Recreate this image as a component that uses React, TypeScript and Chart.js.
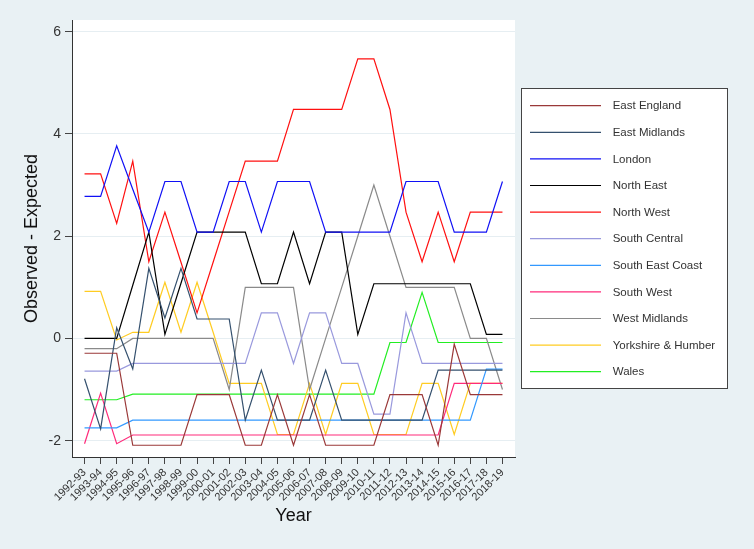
import { useEffect, useRef } from 'react';
import { Chart, registerables } from 'chart.js';

Chart.register(...registerables);

const years = [
  '1992-93', '1993-94', '1994-95', '1995-96', '1996-97', '1997-98', '1998-99',
  '1999-00', '2000-01', '2001-02', '2002-03', '2003-04', '2004-05', '2005-06',
  '2006-07', '2007-08', '2008-09', '2009-10', '2010-11', '2011-12', '2012-13',
  '2013-14', '2014-15', '2015-16', '2016-17', '2017-18', '2018-19',
];

const yTicks = [-2, 0, 2, 4, 6];

const regionNames = [
  'East England', 'East Midlands', 'London', 'North East', 'North West',
  'South Central', 'South East Coast', 'South West', 'West Midlands',
  'Yorkshire & Humber', 'Wales',
];

const regionColors = [
  '#9a3838', '#34506e', '#1010f5', '#000000', '#ff1010',
  '#9999dd', '#3399ff', '#ff2a7a', '#8a8a8a', '#ffcc22', '#22ee22',
];

const eastEngland = [-0.29, -0.29, -0.29, -2.09, -2.09, -2.09, -2.09, -1.1, -1.1, -1.1, -2.09, -2.09, -1.1, -2.09, -1.1, -2.09, -2.09, -2.09, -2.09, -1.1, -1.1, -1.1, -2.09, -0.11, -1.1, -1.1, -1.1];
const eastMidlands = [-0.79, -1.77, 0.21, -0.6, 1.37, 0.4, 1.37, 0.38, 0.38, 0.38, -1.6, -0.62, -1.6, -1.6, -1.6, -0.62, -1.6, -1.6, -1.6, -1.6, -1.6, -1.6, -0.62, -0.62, -0.62, -0.62, -0.62];
const london = [2.78, 2.78, 3.77, 2.92, 2.08, 3.07, 3.07, 2.08, 2.08, 3.07, 3.07, 2.08, 3.07, 3.07, 3.07, 2.08, 2.08, 2.08, 2.08, 2.08, 3.07, 3.07, 3.07, 2.08, 2.08, 2.08, 3.07];
const northEast = [0, 0, 0, 1.04, 2.08, 0.08, 1.08, 2.08, 2.08, 2.08, 2.08, 1.07, 1.07, 2.08, 1.07, 2.08, 2.08, 0.08, 1.07, 1.07, 1.07, 1.07, 1.07, 1.07, 1.07, 0.08, 0.08];
const northWest = [3.22, 3.22, 2.25, 3.47, 1.5, 2.47, 1.49, 0.5, 1.49, 2.48, 3.47, 3.47, 3.47, 4.48, 4.48, 4.48, 4.48, 5.47, 5.47, 4.48, 2.47, 1.5, 2.47, 1.5, 2.47, 2.47, 2.47];
const southCentral = [-0.64, -0.64, -0.64, -0.49, -0.49, -0.49, -0.49, -0.49, -0.49, -0.49, -0.49, 0.5, 0.5, -0.49, 0.5, 0.5, -0.49, -0.49, -1.48, -1.48, 0.5, -0.49, -0.49, -0.49, -0.49, -0.49, -0.49];
const southEastCoast = [-1.75, -1.75, -1.75, -1.6, -1.6, -1.6, -1.6, -1.6, -1.6, -1.6, -1.6, -1.6, -1.6, -1.6, -1.6, -1.6, -1.6, -1.6, -1.6, -1.6, -1.6, -1.6, -1.6, -1.6, -1.6, -0.6, -0.6];
const southWest = [-2.06, -1.07, -2.06, -1.89, -1.89, -1.89, -1.89, -1.89, -1.89, -1.89, -1.89, -1.89, -1.89, -1.89, -1.89, -1.89, -1.89, -1.89, -1.89, -1.89, -1.89, -1.89, -1.89, -0.88, -0.88, -0.88, -0.88];
const westMidlands = [-0.2, -0.2, -0.2, 0, 0, 0, 0, 0, 0, -1.0, 1.0, 1.0, 1.0, 1.0, -1.0, 0, 1.0, 2.0, 3.0, 2.0, 1.0, 1.0, 1.0, 1.0, 0, 0, -1.0];
const yorkshire = [0.92, 0.92, -0.03, 0.12, 0.12, 1.1, 0.12, 1.1, 0.12, -0.88, -0.88, -0.88, -1.88, -1.88, -0.88, -1.88, -0.88, -0.88, -1.88, -1.88, -1.88, -0.88, -0.88, -1.88, -0.88, -0.88, -0.88];
const wales = [-1.2, -1.2, -1.2, -1.09, -1.09, -1.09, -1.09, -1.09, -1.09, -1.09, -1.09, -1.09, -1.09, -1.09, -1.09, -1.09, -1.09, -1.09, -1.09, -0.08, -0.08, 0.9, -0.08, -0.08, -0.08, -0.08, -0.08];

const FONT = "'Liberation Sans', Arial, sans-serif";

const backgroundPlugin = {
  id: 'bgPlugin',
  beforeDraw(chart: any) {
    const { ctx, chartArea } = chart;
    ctx.save();
    ctx.fillStyle = '#e9f1f4';
    ctx.fillRect(0, 0, chart.width, chart.height);
    ctx.fillStyle = '#ffffff';
    ctx.fillRect(chartArea.left, chartArea.top, chartArea.right - chartArea.left, chartArea.bottom - chartArea.top);
    ctx.restore();
  },
};

const legendPlugin = {
  id: 'boxLegend',
  afterDraw(chart: any) {
    const ctx = chart.ctx;
    ctx.save();
    const bx = 521.5, by = 88.5, bw = 206, bh = 300;
    ctx.fillStyle = '#ffffff';
    ctx.fillRect(bx, by, bw, bh);
    ctx.strokeStyle = '#444444';
    ctx.lineWidth = 1;
    ctx.strokeRect(bx, by, bw, bh);
    chart.data.datasets.forEach((ds: any, k: number) => {
      const y = 105.7 + k * 26.6;
      ctx.strokeStyle = ds.borderColor;
      ctx.lineWidth = 1.2;
      ctx.beginPath();
      ctx.moveTo(530, y);
      ctx.lineTo(601, y);
      ctx.stroke();
      ctx.fillStyle = '#333333';
      ctx.font = `11.5px ${FONT}`;
      ctx.textBaseline = 'middle';
      ctx.textAlign = 'left';
      ctx.fillText(ds.label, 612.7, y + 0.5);
    });
    ctx.restore();
  },
};

export default function App() {
  const ref = useRef<HTMLCanvasElement>(null);

  useEffect(() => {
    if (!ref.current) return;
    Chart.defaults.font.family = FONT;
    const series = [eastEngland, eastMidlands, london, northEast, northWest, southCentral, southEastCoast, southWest, westMidlands, yorkshire, wales];
    const chart = new Chart(ref.current, {
      type: 'line',
      data: {
        datasets: series.map((vals, k) => ({
          label: regionNames[k],
          data: vals.map((v, i) => ({ x: i, y: v })),
          borderColor: regionColors[k],
          backgroundColor: regionColors[k],
          borderWidth: 1.2,
          pointRadius: 0,
          tension: 0,
          fill: false,
        })),
      },
      options: {
        responsive: false,
        animation: false,
        devicePixelRatio: 1,
        layout: { padding: { top: 20, right: 239, bottom: 0, left: 0 } },
        plugins: { legend: { display: false }, tooltip: { enabled: false } },
        scales: {
          x: {
            type: 'linear',
            min: -0.78,
            max: 26.78,
            afterFit: (s: any) => { s.height = 92; },
            afterBuildTicks: (a: any) => { a.ticks = years.map((_, i) => ({ value: i })); },
            ticks: {
              autoSkip: false,
              minRotation: 45,
              maxRotation: 45,
              padding: 2,
              font: { size: 11 },
              color: '#333333',
              callback: (v: any) => years[v],
            },
            grid: { drawOnChartArea: false, tickLength: 7, tickColor: '#444444' },
            border: { color: '#333333' },
            title: { display: true, text: 'Year', font: { size: 18 }, color: '#111111', padding: { top: 0, bottom: 22 } },
          },
          y: {
            min: -2.32,
            max: 6.23,
            afterFit: (s: any) => { s.width = 72; },
            afterBuildTicks: (a: any) => { a.ticks = yTicks.map((v) => ({ value: v })); },
            ticks: { padding: 4, font: { size: 14 }, color: '#333333', callback: (v: any) => String(v) },
            grid: { color: '#e6eef2', tickLength: 7, tickColor: '#444444' },
            border: { color: '#333333' },
            title: { display: true, text: 'Observed - Expected', font: { size: 18 }, color: '#111111', padding: { top: 21, bottom: 0 } },
          },
        },
      },
      plugins: [backgroundPlugin, legendPlugin],
    });
    return () => chart.destroy();
  }, []);

  return (
    <div style={{ position: 'fixed', left: 0, top: 0, width: 754, height: 549 }}>
      <canvas ref={ref} width={754} height={549} style={{ display: 'block' }} />
    </div>
  );
}
